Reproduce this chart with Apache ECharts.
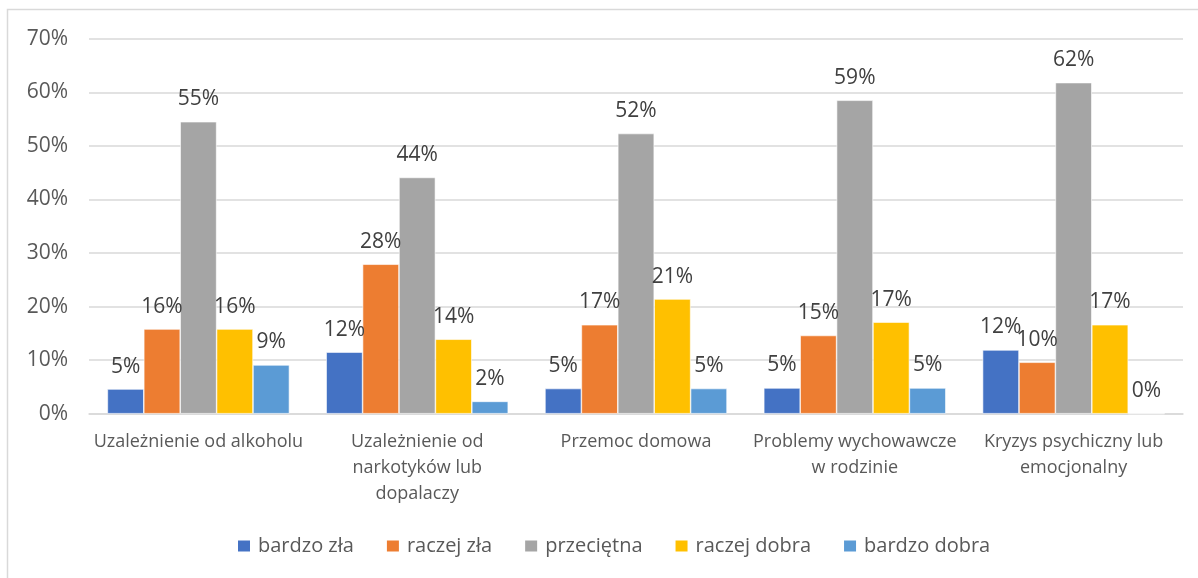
<!DOCTYPE html>
<html>
<head>
<meta charset="utf-8">
<script src="https://cdn.jsdelivr.net/npm/echarts@6/dist/echarts.min.js"></script>
<style>
html,body{margin:0;padding:0;background:#fff;}
#chart{width:1198px;height:578px;}
</style>
</head>
<body>
<div id="chart"></div>
<script>
const categories = [
  "Uzależnienie od alkoholu",
  "Uzależnienie od\nnarkotyków lub\ndopalaczy",
  "Przemoc domowa",
  "Problemy wychowawcze\nw rodzinie",
  "Kryzys psychiczny lub\nemocjonalny"
];
const seriesNames = ["bardzo zła", "raczej zła", "przeciętna", "raczej dobra", "bardzo dobra"];
const bardzoZla   = [4.6, 11.5, 4.7, 4.8, 11.9];
const raczejZla   = [15.8, 27.9, 16.6, 14.6, 9.6];
const przecietna  = [54.5, 44.1, 52.3, 58.5, 61.8];
const raczejDobra = [15.8, 13.9, 21.4, 17.1, 16.6];
const bardzoDobra = [9.1, 2.3, 4.7, 4.8, 0];
const yTicks = [0, 10, 20, 30, 40, 50, 60, 70];

const colors = ["#4472C4", "#ED7D31", "#A5A5A5", "#FFC000", "#5B9BD5"];
const seriesData = [bardzoZla, raczejZla, przecietna, raczejDobra, bardzoDobra];
const font = "'Open Sans', 'Noto Sans', sans-serif";

const chart = echarts.init(document.getElementById('chart'));
chart.setOption({
  animation: false,
  color: colors,
  textStyle: { fontFamily: font },
  graphic: [{
    type: 'rect',
    shape: { x: 7.5, y: 9.5, width: 1300, height: 700 },
    style: { fill: 'none', stroke: '#d9d9d9', lineWidth: 1.5 },
    silent: true
  }],
  grid: { left: 89, right: 15, top: 38.7, bottom: 164.3, containLabel: false },
  legend: {
    data: seriesNames,
    left: 236,
    top: 536,
    padding: 0,
    itemWidth: 14,
    itemHeight: 13,
    itemGap: 31,
    icon: 'rect',
    textStyle: { fontSize: 20, color: '#595959', fontFamily: font, padding: [0, 0, 0, 2] }
  },
  xAxis: {
    type: 'category',
    data: categories,
    axisLine: { lineStyle: { color: '#d9d9d9', width: 1.5 } },
    axisTick: { show: false },
    axisLabel: { color: '#595959', fontSize: 18, lineHeight: 26, margin: 15, interval: 0, fontFamily: font }
  },
  yAxis: {
    type: 'value',
    min: yTicks[0],
    max: yTicks[yTicks.length - 1],
    interval: 10,
    axisLine: { show: false },
    axisTick: { show: false },
    splitLine: { lineStyle: { color: '#d9d9d9', width: 1.5 } },
    axisLabel: { color: '#595959', fontSize: 21, margin: 21, formatter: '{value}%', fontFamily: font }
  },
  series: seriesNames.map((name, i) => ({
    name: name,
    type: 'bar',
    data: seriesData[i],
    barGap: '0%',
    barCategoryGap: '16.8%',
    itemStyle: { color: colors[i], borderColor: '#fff', borderWidth: 0.6 },
    label: {
      show: true,
      position: 'top',
      distance: 12,
      color: '#404040',
      fontSize: 21,
      fontFamily: font,
      formatter: p => Math.round(p.value) + '%'
    }
  }))
});
</script>
</body>
</html>
